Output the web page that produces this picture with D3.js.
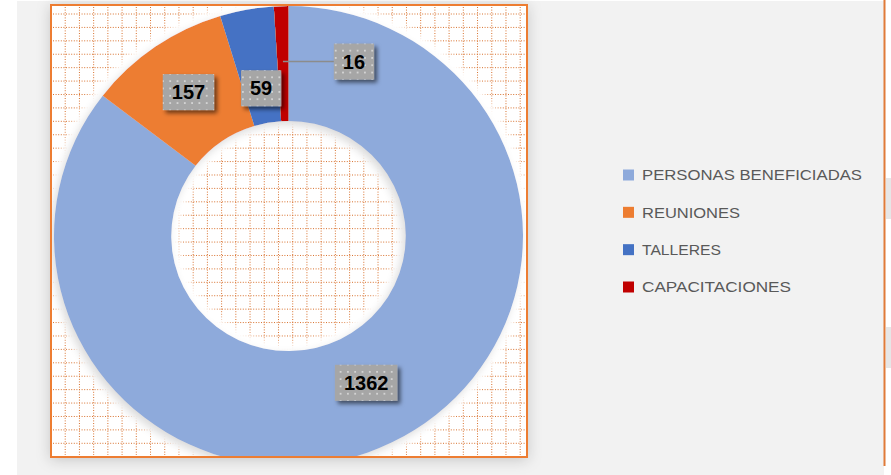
<!DOCTYPE html>
<meta charset="utf-8">
<style>
  body { margin: 0; background: #fff; }
  svg { display: block; }
  .lbl { font: bold 20px "Liberation Sans", Arial, sans-serif; fill: #000; }
  .leg { font: 15px "Liberation Sans", Arial, sans-serif; fill: #595959; }
</style>
<body>
<script src="https://cdn.jsdelivr.net/npm/d3@7"></script>
<script>

var categories = ["PERSONAS BENEFICIADAS", "REUNIONES", "TALLERES", "CAPACITACIONES"];
var values = [1362, 157, 59, 16];
var colors = ["#8eaadb", "#ed7d31", "#4472c4", "#c00000"];

var width = 891, height = 475;
var cx = 288.5, cy = 236, rx = 234.5, ry = 230, hole = 0.5;
// label nudges away from the ring centre (Excel moved some by hand)
var nudge = [[0, -8], [0, -2], [4, 22], [71, -2]];
var legendWidths = [220, 98, 79, 149];

var svg = d3.select("body").append("svg")
    .attr("width", width)
    .attr("height", height);

var defs = svg.append("defs");

var grid = defs.append("pattern")
    .attr("id", "dots")
    .attr("width", 7.3).attr("height", 7.3)
    .attr("patternUnits", "userSpaceOnUse");
grid.append("rect").attr("width", 7.3).attr("height", 7.3).attr("fill", "#a6a6a6");
grid.append("rect").attr("x", 3).attr("y", 3).attr("width", 1.3).attr("height", 1.3).attr("fill", "#fff");

var sh = defs.append("filter").attr("id", "plotShadow")
    .attr("x", -0.1).attr("y", -0.1).attr("width", 1.2).attr("height", 1.2);
sh.append("feGaussianBlur").attr("in", "SourceAlpha").attr("stdDeviation", 7).attr("result", "b");
sh.append("feOffset").attr("in", "b").attr("dx", 0).attr("dy", 2).attr("result", "o");
sh.append("feFlood").attr("flood-color", "#000").attr("flood-opacity", 0.18);
sh.append("feComposite").attr("in2", "o").attr("operator", "in").attr("result", "s");
var m1 = sh.append("feMerge");
m1.append("feMergeNode").attr("in", "s");
m1.append("feMergeNode").attr("in", "SourceGraphic");

var glow = defs.append("filter").attr("id", "ringFx")
    .attr("x", -0.2).attr("y", -0.2).attr("width", 1.4).attr("height", 1.4);
glow.append("feMorphology").attr("in", "SourceAlpha").attr("operator", "dilate").attr("radius", 7).attr("result", "d");
glow.append("feGaussianBlur").attr("in", "d").attr("stdDeviation", 3).attr("result", "db");
glow.append("feFlood").attr("flood-color", "#fff");
glow.append("feComposite").attr("in2", "db").attr("operator", "in").attr("result", "g");
glow.append("feGaussianBlur").attr("in", "SourceAlpha").attr("stdDeviation", 4).attr("result", "sb");
glow.append("feOffset").attr("in", "sb").attr("dx", -3).attr("dy", 4).attr("result", "so");
glow.append("feFlood").attr("flood-color", "#000").attr("flood-opacity", 0.3);
glow.append("feComposite").attr("in2", "so").attr("operator", "in").attr("result", "s");
var m2 = glow.append("feMerge");
m2.append("feMergeNode").attr("in", "g");
m2.append("feMergeNode").attr("in", "s");
m2.append("feMergeNode").attr("in", "SourceGraphic");

var boxFx = defs.append("filter").attr("id", "boxFx")
    .attr("x", -0.3).attr("y", -0.3).attr("width", 1.6).attr("height", 1.6);
boxFx.append("feGaussianBlur").attr("in", "SourceAlpha").attr("stdDeviation", 2).attr("result", "b");
boxFx.append("feOffset").attr("in", "b").attr("dx", 3).attr("dy", 3).attr("result", "o");
boxFx.append("feFlood").attr("flood-color", "#000").attr("flood-opacity", 0.55);
boxFx.append("feComposite").attr("in2", "o").attr("operator", "in").attr("result", "s");
var m3 = boxFx.append("feMerge");
m3.append("feMergeNode").attr("in", "s");
m3.append("feMergeNode").attr("in", "SourceGraphic");

defs.append("clipPath").attr("id", "plotClip")
  .append("rect").attr("x", 52).attr("y", 6).attr("width", 474).attr("height", 450);

// chart area background
svg.append("rect").attr("x", 17).attr("y", 1).attr("width", 867).attr("height", 474).attr("fill", "#f2f2f2");
svg.append("rect").attr("x", 886).attr("y", 178).attr("width", 5).attr("height", 41).attr("fill", "#e6e6e6");
svg.append("rect").attr("x", 886).attr("y", 327).attr("width", 5).attr("height", 41).attr("fill", "#e6e6e6");
svg.append("line").attr("x1", 884.5).attr("x2", 884.5).attr("y1", 0).attr("y2", 466)
    .attr("stroke", "#e07b39").attr("stroke-width", 2);

// plot area
svg.append("rect").attr("x", 51).attr("y", 5).attr("width", 476).attr("height", 452)
    .attr("fill", "#fff").attr("stroke", "#ed7d31").attr("stroke-width", 2)
    .attr("filter", "url(#plotShadow)");

var gx = d3.scaleLinear().domain([0, 33]).range([51, 520.2]);
var gy = d3.scaleLinear().domain([0, 32]).range([14, 443.3]);
var gridG = svg.append("g").attr("stroke", "#d8722f").attr("stroke-dasharray", "1,1.6").attr("stroke-width", 1);
gridG.selectAll(".v").data(d3.range(1, 34)).enter().append("line")
    .attr("x1", gx).attr("x2", gx).attr("y1", 7).attr("y2", 455);
gridG.selectAll(".h").data(d3.range(0, 33)).enter().append("line")
    .attr("y1", gy).attr("y2", gy).attr("x1", 53).attr("x2", 525);

// donut
var pie = d3.pie().sort(null).value(function(d) { return d; });
var arcs = pie(values);
var arc = d3.arc().innerRadius(ry * hole).outerRadius(ry);

var ring = svg.append("g").attr("clip-path", "url(#plotClip)")
  .append("g")
    .attr("transform", "translate(" + cx + "," + cy + ") scale(" + (rx / ry) + ",1)")
    .attr("filter", "url(#ringFx)");
ring.selectAll("path").data(arcs).enter().append("path")
    .attr("fill", function(d, i) { return colors[i]; })
    .attr("d", arc);

// data labels
var labels = arcs.map(function(d, i) {
  var c = arc.centroid(d);
  return { v: values[i], ax: cx + c[0] * rx / ry, ay: cy + c[1], x: cx + c[0] * rx / ry + nudge[i][0], y: cy + c[1] + nudge[i][1] };
});

svg.append("line")
    .attr("x1", labels[3].ax).attr("y1", labels[3].y)
    .attr("x2", labels[3].x - 20).attr("y2", labels[3].y)
    .attr("stroke", "#8c8c8c").attr("stroke-width", 1.5);

var lg = svg.selectAll(".dl").data(labels).enter().append("g")
    .attr("transform", function(d) { return "translate(" + d.x + "," + d.y + ")"; });
lg.append("text").attr("class", "lbl").attr("text-anchor", "middle").attr("dy", "0.36em")
    .text(function(d) { return d.v; })
    .each(function(d) { d.w = this.getComputedTextLength() + 18; });
lg.insert("rect", "text")
    .attr("x", function(d) { return -d.w / 2; }).attr("y", -18)
    .attr("width", function(d) { return d.w; }).attr("height", 36)
    .attr("fill", "url(#dots)").attr("filter", "url(#boxFx)");

// legend
var ly = d3.scalePoint().domain(categories).range([175, 287]);
var leg = svg.selectAll(".lg").data(categories).enter().append("g")
    .attr("transform", function(d) { return "translate(623," + ly(d) + ")"; });
leg.append("rect").attr("x", 0).attr("y", -5.5).attr("width", 11).attr("height", 11)
    .attr("fill", function(d, i) { return colors[i]; });
leg.append("text").attr("class", "leg").attr("x", 19).attr("dy", "0.36em")
    .attr("textLength", function(d, i) { return legendWidths[i]; })
    .attr("lengthAdjust", "spacingAndGlyphs")
    .text(function(d) { return d; });

</script>
</body>
